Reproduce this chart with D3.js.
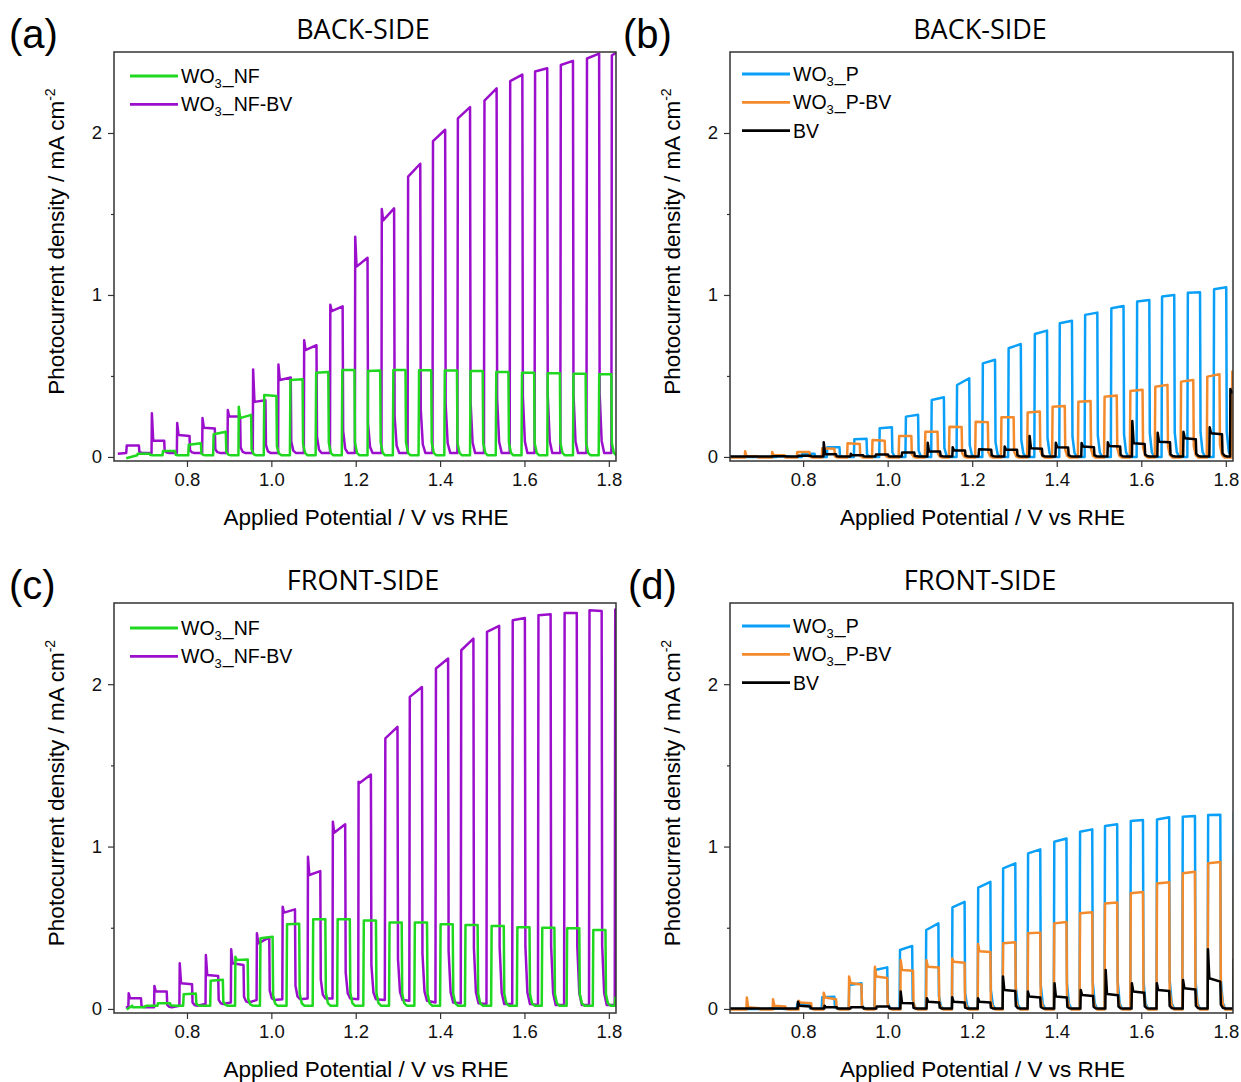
<!DOCTYPE html>
<html>
<head>
<meta charset="utf-8">
<script src="https://cdn.jsdelivr.net/npm/d3@7"></script>
<style>
  body { margin: 0; background: #fff; }
  svg { font-family: "Liberation Sans", Arial, sans-serif; }
  .frame { fill: none; stroke: #333; stroke-width: 1.5; }
  .axis path { display: none; }
  .axis line { stroke: #333; stroke-width: 1.2; }
  .axis text { font-size: 18.5px; fill: #111; font-family: "Liberation Sans", Arial, sans-serif; }
  .trace { fill: none; stroke-width: 2.5; stroke-linejoin: round; }
</style>
</head>
<body>
<script>
// ---- data (potential V vs RHE, current mA cm-2) ----
// each chop: light-on potential, spike value, value just after spike, value at light-off

// (a) back-side, nanoflake
var aPurpleOn    = [0.656, 0.716, 0.776, 0.836, 0.896, 0.956, 1.016, 1.077, 1.139, 1.198, 1.261, 1.323, 1.382, 1.441, 1.504, 1.565, 1.624, 1.685, 1.747, 1.806];
var aPurpleSpike = [0.075, 0.27, 0.21, 0.24, 0.29, 0.54, 0.57, 0.72, 0.94, 1.36, 1.53, 1.73, 1.95, 2.09, 2.20, 2.32, 2.38, 2.42, 2.46, 2.48];
var aPurpleStart = [0.07, 0.10, 0.136, 0.18, 0.25, 0.34, 0.475, 0.66, 0.90, 1.175, 1.46, 1.73, 1.95, 2.09, 2.20, 2.32, 2.38, 2.42, 2.46, 2.48];
var aPurpleEnd   = [0.07, 0.10, 0.13, 0.175, 0.25, 0.35, 0.49, 0.69, 0.93, 1.23, 1.535, 1.81, 2.02, 2.16, 2.275, 2.36, 2.40, 2.445, 2.49, 2.52];

var aGreenOn    = [0.682, 0.742, 0.803, 0.862, 0.922, 0.982, 1.044, 1.105, 1.167, 1.228, 1.288, 1.349, 1.41, 1.471, 1.532, 1.593, 1.654, 1.715, 1.776];
var aGreenSpike = [0.02, 0.04, 0.075, 0.14, 0.31, 0.383, 0.475, 0.52, 0.537, 0.53, 0.537, 0.535, 0.533, 0.53, 0.525, 0.52, 0.516, 0.514, 0.51];
var aGreenStart = [0.02, 0.037, 0.075, 0.14, 0.24, 0.383, 0.475, 0.52, 0.537, 0.53, 0.537, 0.535, 0.533, 0.53, 0.525, 0.52, 0.516, 0.514, 0.51];
var aGreenEnd   = [0.02, 0.037, 0.085, 0.156, 0.26, 0.377, 0.48, 0.525, 0.537, 0.533, 0.537, 0.535, 0.533, 0.53, 0.525, 0.52, 0.516, 0.514, 0.51];

// (b) back-side, planar
var bBlueOn    = [0.677, 0.737, 0.797, 0.856, 0.92, 0.98, 1.042, 1.103, 1.163, 1.224, 1.285, 1.347, 1.406, 1.466, 1.528, 1.589, 1.648, 1.709, 1.771];
var bBlueStart = [0.0, 0.005, 0.02, 0.06, 0.109, 0.177, 0.249, 0.352, 0.444, 0.578, 0.671, 0.759, 0.825, 0.877, 0.918, 0.959, 0.99, 1.014, 1.035];
var bBlueEnd   = [0.0, 0.005, 0.02, 0.06, 0.112, 0.183, 0.26, 0.368, 0.486, 0.60, 0.697, 0.78, 0.841, 0.891, 0.932, 0.969, 1.0, 1.017, 1.047];

var bOrangeOn    = [0.662, 0.726, 0.785, 0.844, 0.904, 0.963, 1.026, 1.088, 1.145, 1.207, 1.268, 1.33, 1.389, 1.45, 1.512, 1.573, 1.632, 1.693, 1.755, 1.814];
var bOrangeSpike = [0.035, 0.03, 0.03, 0.054, 0.085, 0.105, 0.13, 0.156, 0.187, 0.218, 0.245, 0.274, 0.31, 0.341, 0.372, 0.407, 0.434, 0.465, 0.496, 0.527];
var bOrangeStart = [0.005, 0.01, 0.03, 0.054, 0.085, 0.105, 0.13, 0.156, 0.187, 0.218, 0.245, 0.274, 0.31, 0.341, 0.372, 0.407, 0.434, 0.465, 0.496, 0.527];
var bOrangeEnd   = [0.005, 0.01, 0.03, 0.05, 0.08, 0.10, 0.13, 0.155, 0.185, 0.215, 0.245, 0.28, 0.315, 0.345, 0.38, 0.415, 0.445, 0.475, 0.51, 0.54];

var bBlackOn    = [0.728, 0.788, 0.848, 0.912, 0.971, 1.033, 1.094, 1.153, 1.215, 1.276, 1.335, 1.397, 1.458, 1.52, 1.578, 1.638, 1.699, 1.761, 1.81];
var bBlackSpike = [0.01, 0.01, 0.09, 0.02, 0.02, 0.03, 0.088, 0.06, 0.05, 0.064, 0.13, 0.088, 0.086, 0.09, 0.222, 0.15, 0.156, 0.183, 0.42];
var bBlackStart = [0.005, 0.008, 0.016, 0.01, 0.015, 0.027, 0.033, 0.04, 0.047, 0.045, 0.054, 0.06, 0.064, 0.068, 0.085, 0.094, 0.115, 0.146, 0.40];
var bBlackEnd   = [0.005, 0.008, 0.016, 0.01, 0.015, 0.027, 0.033, 0.04, 0.045, 0.045, 0.05, 0.058, 0.06, 0.065, 0.08, 0.09, 0.11, 0.14, 0.40];

// (c) front-side, nanoflake
var cPurpleOn    = [0.661, 0.722, 0.782, 0.844, 0.904, 0.965, 1.026, 1.086, 1.145, 1.206, 1.269, 1.327, 1.389, 1.449, 1.51, 1.571, 1.632, 1.694, 1.753, 1.814];
var cPurpleSpike = [0.096, 0.142, 0.281, 0.332, 0.367, 0.466, 0.63, 0.937, 1.153, 1.399, 1.666, 1.922, 2.097, 2.209, 2.322, 2.394, 2.425, 2.439, 2.455, 2.46];
var cPurpleStart = [0.066, 0.107, 0.158, 0.209, 0.281, 0.404, 0.593, 0.825, 1.085, 1.393, 1.666, 1.922, 2.097, 2.209, 2.322, 2.394, 2.425, 2.439, 2.455, 2.46];
var cPurpleEnd   = [0.066, 0.107, 0.152, 0.203, 0.27, 0.441, 0.613, 0.849, 1.137, 1.444, 1.737, 1.983, 2.158, 2.281, 2.359, 2.408, 2.431, 2.439, 2.451, 2.46];
var cPurpleDark  = [0.01, 0.01, 0.02, 0.03, 0.04, 0.055, 0.06, 0.065, 0.065, 0.06, 0.055, 0.05, 0.04, 0.035, 0.03, 0.03, 0.025, 0.025, 0.025, 0.025];

var cGreenOn    = [0.67, 0.73, 0.791, 0.855, 0.914, 0.973, 1.036, 1.098, 1.156, 1.218, 1.279, 1.339, 1.4, 1.459, 1.521, 1.582, 1.641, 1.70, 1.762, 1.814];
var cGreenSpike = [0.01, 0.035, 0.09, 0.174, 0.322, 0.435, 0.521, 0.552, 0.552, 0.545, 0.533, 0.533, 0.521, 0.517, 0.511, 0.503, 0.50, 0.497, 0.486, 0.07];
var cGreenStart = [0.01, 0.035, 0.09, 0.174, 0.302, 0.435, 0.521, 0.552, 0.552, 0.545, 0.533, 0.533, 0.521, 0.517, 0.511, 0.503, 0.50, 0.497, 0.486, 0.07];
var cGreenEnd   = [0.01, 0.035, 0.095, 0.18, 0.305, 0.445, 0.525, 0.552, 0.552, 0.545, 0.533, 0.533, 0.521, 0.517, 0.511, 0.503, 0.50, 0.497, 0.486, 0.07];

// (d) front-side, planar
var dBlueOn    = [0.72, 0.785, 0.844, 0.908, 0.969, 1.028, 1.09, 1.152, 1.213, 1.272, 1.331, 1.393, 1.454, 1.513, 1.574, 1.636, 1.697, 1.757, 1.818];
var dBlueStart = [0.003, 0.03, 0.072, 0.148, 0.24, 0.363, 0.486, 0.626, 0.747, 0.866, 0.958, 1.03, 1.091, 1.126, 1.157, 1.167, 1.184, 1.194, 1.208];
var dBlueEnd   = [0.003, 0.03, 0.075, 0.158, 0.256, 0.388, 0.527, 0.66, 0.783, 0.897, 0.983, 1.05, 1.106, 1.137, 1.163, 1.18, 1.188, 1.196, 1.21];

var dOrangeOn    = [0.666, 0.728, 0.789, 0.848, 0.908, 0.969, 1.03, 1.091, 1.152, 1.213, 1.272, 1.331, 1.393, 1.454, 1.513, 1.574, 1.636, 1.697, 1.757, 1.818];
var dOrangeSpike = [0.07, 0.06, 0.05, 0.10, 0.20, 0.26, 0.30, 0.30, 0.31, 0.40, 0.404, 0.466, 0.527, 0.589, 0.65, 0.712, 0.773, 0.835, 0.897, 0.948];
var dOrangeStart = [0.01, 0.02, 0.04, 0.07, 0.16, 0.20, 0.24, 0.26, 0.29, 0.355, 0.404, 0.466, 0.527, 0.589, 0.65, 0.712, 0.773, 0.835, 0.897, 0.948];
var dOrangeEnd   = [0.005, 0.015, 0.035, 0.06, 0.15, 0.19, 0.235, 0.255, 0.285, 0.35, 0.41, 0.47, 0.535, 0.595, 0.655, 0.72, 0.78, 0.845, 0.905, 0.95];

var dBlackOn    = [0.787, 0.85, 0.912, 0.973, 1.03, 1.092, 1.152, 1.213, 1.272, 1.331, 1.394, 1.456, 1.515, 1.577, 1.636, 1.698, 1.757, 1.818];
var dBlackSpike = [0.045, 0.02, 0.015, 0.02, 0.107, 0.066, 0.072, 0.066, 0.20, 0.107, 0.158, 0.117, 0.24, 0.158, 0.158, 0.178, 0.367, 0.306];
var dBlackStart = [0.02, 0.01, 0.01, 0.015, 0.037, 0.045, 0.045, 0.045, 0.117, 0.076, 0.076, 0.086, 0.092, 0.107, 0.117, 0.127, 0.189, 0.25];
var dBlackEnd   = [0.015, 0.01, 0.01, 0.015, 0.035, 0.04, 0.04, 0.04, 0.11, 0.07, 0.07, 0.08, 0.085, 0.10, 0.11, 0.12, 0.168, 0.25];

var xTicks = [0.8, 1.0, 1.2, 1.4, 1.6, 1.8];
var yTicks = [0, 1, 2];
var yMinor = [0.5, 1.5];
var chopWidth = 0.03; // light-on duration in V

var colGreen = "#1fd81f", colPurple = "#9b0fcc", colBlue = "#0aa0f8", colOrange = "#f38a2c", colBlack = "#000";

var panels = [
  { letter: "(a)", title: "BACK-SIDE", left: 114, right: 616, top: 52, bottom: 461, lx: 9, tx: 363,
    series: [
      { name: "WO3_NF-BV", color: colPurple, on: aPurpleOn, spike: aPurpleSpike, start: aPurpleStart, end: aPurpleEnd, dark: 0.025, first: [0.636, 0.02] },
      { name: "WO3_NF", color: colGreen, on: aGreenOn, spike: aGreenSpike, start: aGreenStart, end: aGreenEnd, dark: 0.01, first: [0.656, -0.008] }
    ],
    legend: ["WO3_NF", "WO3_NF-BV"], legendColors: [colGreen, colPurple], legX: 130, legY: 76 },
  { letter: "(b)", title: "BACK-SIDE", left: 730, right: 1233, top: 52, bottom: 461, lx: 623, tx: 980,
    series: [
      { name: "WO3_P", color: colBlue, on: bBlueOn, start: bBlueStart, end: bBlueEnd, dark: 0.0, first: [0.627, 0.0] },
      { name: "WO3_P-BV", color: colOrange, on: bOrangeOn, spike: bOrangeSpike, start: bOrangeStart, end: bOrangeEnd, dark: -0.004, first: [0.627, -0.004] },
      { name: "BV", color: colBlack, on: bBlackOn, spike: bBlackSpike, start: bBlackStart, end: bBlackEnd, dark: 0.003, first: [0.627, 0.003] }
    ],
    legend: ["WO3_P", "WO3_P-BV", "BV"], legendColors: [colBlue, colOrange, colBlack], legX: 742, legY: 74 },
  { letter: "(c)", title: "FRONT-SIDE", left: 114, right: 616, top: 603, bottom: 1013, lx: 9, tx: 363,
    series: [
      { name: "WO3_NF-BV", color: colPurple, on: cPurpleOn, spike: cPurpleSpike, start: cPurpleStart, end: cPurpleEnd, dark: cPurpleDark, first: [0.655, 0.01] },
      { name: "WO3_NF", color: colGreen, on: cGreenOn, spike: cGreenSpike, start: cGreenStart, end: cGreenEnd, dark: 0.02, first: [0.657, -0.003] }
    ],
    legend: ["WO3_NF", "WO3_NF-BV"], legendColors: [colGreen, colPurple], legX: 130, legY: 628 },
  { letter: "(d)", title: "FRONT-SIDE", left: 730, right: 1233, top: 603, bottom: 1013, lx: 628, tx: 980,
    series: [
      { name: "WO3_P", color: colBlue, on: dBlueOn, start: dBlueStart, end: dBlueEnd, dark: 0.0, first: [0.627, 0.0] },
      { name: "WO3_P-BV", color: colOrange, on: dOrangeOn, spike: dOrangeSpike, start: dOrangeStart, end: dOrangeEnd, dark: -0.004, first: [0.627, -0.004] },
      { name: "BV", color: colBlack, on: dBlackOn, spike: dBlackSpike, start: dBlackStart, end: dBlackEnd, dark: 0.002, first: [0.627, 0.002] }
    ],
    legend: ["WO3_P", "WO3_P-BV", "BV"], legendColors: [colBlue, colOrange, colBlack], legX: 742, legY: 626 }
];

var svg = d3.select("body").append("svg")
  .attr("width", 1241)
  .attr("height", 1082);

// turn chop values into a chopped-light trace
function chopPoints(s){
  var pts = [s.first];
  s.on.forEach(function(v, i){
    var d = Array.isArray(s.dark) ? s.dark[i] : s.dark;
    var sp = s.spike ? s.spike[i] : s.start[i];
    var off = v + chopWidth;
    pts.push([v, d]);
    if (sp > s.start[i] + 0.005) {
      pts.push([v + 0.0008, sp]);
      pts.push([v + 0.004, s.start[i]]);
    } else {
      pts.push([v + 0.0012, s.start[i]]);
    }
    pts.push([off, s.end[i]]);
    pts.push([off + 0.0012, d + 0.15 * (s.end[i] - d)]);
    pts.push([off + 0.006, d + 0.03 * (s.end[i] - d)]);
    pts.push([off + 0.012, d]);
  });
  var last = pts[pts.length - 1];
  pts.push([1.9, last[1]]);
  return pts;
}

panels.forEach(function(p, pi){
  var x = d3.scaleLinear().domain([0.627, 1.817]).range([p.left, p.right]);
  var y = d3.scaleLinear().domain([-0.025, 2.5]).range([p.bottom, p.top]);
  var g = svg.append("g");

  g.append("clipPath").attr("id", "clip" + pi)
    .append("rect")
    .attr("x", p.left).attr("y", p.top)
    .attr("width", p.right - p.left).attr("height", p.bottom - p.top);

  var line = d3.line()
    .x(function(d){ return x(d[0]); })
    .y(function(d){ return y(d[1]); });

  var traces = g.append("g").attr("clip-path", "url(#clip" + pi + ")");
  p.series.forEach(function(s){
    traces.append("path")
      .attr("class", "trace")
      .attr("stroke", s.color)
      .attr("d", line(chopPoints(s)));
  });

  // axes
  g.append("g").attr("class", "axis")
    .attr("transform", "translate(0," + p.bottom + ")")
    .call(d3.axisBottom(x).tickValues(xTicks).tickSize(6).tickPadding(6).tickFormat(d3.format(".1f")));
  g.append("g").attr("class", "axis")
    .attr("transform", "translate(" + p.left + ",0)")
    .call(d3.axisLeft(y).tickValues(yTicks).tickSize(6).tickPadding(6).tickFormat(d3.format("d")));
  g.append("g").attr("class", "axis")
    .attr("transform", "translate(" + p.left + ",0)")
    .call(d3.axisLeft(y).tickValues(yMinor).tickSize(3).tickFormat(""));

  g.append("rect").attr("class", "frame")
    .attr("x", p.left).attr("y", p.top)
    .attr("width", p.right - p.left).attr("height", p.bottom - p.top);

  // axis titles
  g.append("text")
    .attr("x", (p.left + p.right) / 2 + 1).attr("y", p.bottom + 64)
    .attr("text-anchor", "middle")
    .style("font-size", "22.5px")
    .text("Applied Potential / V vs RHE");

  var yl = g.append("text")
    .attr("transform", "translate(" + (p.left - 50) + "," + ((p.top + p.bottom) / 2 - 15) + ") rotate(-90)")
    .attr("text-anchor", "middle")
    .style("font-size", "22.5px");
  yl.append("tspan").text("Photocurrent density / mA cm");
  yl.append("tspan").attr("dy", -9).style("font-size", "14px").text("-2");

  // panel title and letter
  g.append("text")
    .attr("x", p.tx).attr("y", p.top - 13)
    .attr("text-anchor", "middle")
    .style("font-family", "'Open Sans', sans-serif")
    .style("font-size", "27px")
    .text(p.title);
  g.append("text")
    .attr("x", p.lx).attr("y", p.top - 4)
    .style("font-size", "40px")
    .text(p.letter);

  // legend
  p.legend.forEach(function(name, i){
    var ly = p.legY + i * 28.3;
    g.append("line")
      .attr("x1", p.legX).attr("x2", p.legX + 48)
      .attr("y1", ly).attr("y2", ly)
      .attr("stroke", p.legendColors[i]).attr("stroke-width", 2.8);
    var t = g.append("text")
      .attr("x", p.legX + 51).attr("y", ly + 7)
      .style("font-size", "19.5px");
    var m = name.match(/^WO3(.*)$/);
    if (m) {
      t.append("tspan").text("WO");
      t.append("tspan").attr("dy", 5).style("font-size", "13px").text("3");
      t.append("tspan").attr("dy", -5).attr("dx", 1).text(m[1]);
    } else {
      t.text(name);
    }
  });
});
</script>
</body>
</html>
